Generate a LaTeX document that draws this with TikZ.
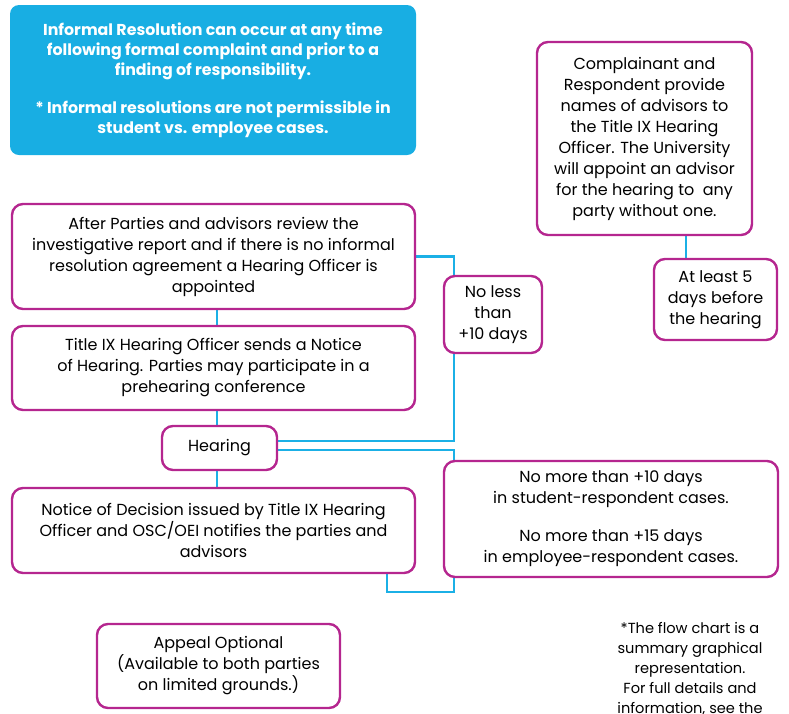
\documentclass[tikz,border=0pt]{standalone}
\usepackage{fontspec}
\setmainfont{Poppins}
\usetikzlibrary{backgrounds}
\definecolor{boxpink}{RGB}{181,38,143}
\definecolor{linkblue}{RGB}{27,176,230}
\definecolor{notefill}{RGB}{24,174,227}
\tikzset{
  stepbox/.style={draw=boxpink, line width=2.4pt, rounded corners=11pt, fill=white,
    align=center, inner sep=0pt, font=\fontsize{16}{21}\selectfont},
  infobox/.style={fill=notefill, rounded corners=9pt, align=center, inner sep=0pt,
    text=white, font=\bfseries\fontsize{15.8}{20}\selectfont},
  link/.style={draw=linkblue, line width=2.6pt},
}
\begin{document}
\begin{tikzpicture} [x=1pt,y=-1pt]
        \useasboundingbox (0,0) rectangle (789,713);
        \clip (0,0) rectangle (789,713);
% informal resolution note
        \node[infobox,minimum width=406pt,minimum height=150pt] (info) at (213,80)
          {Informal Resolution can occur at any time\\following formal complaint and prior to a\\finding of responsibility.\\[18pt]
           * Informal resolutions are not permissible in\\student vs. employee cases.};
% advisors
        \node[stepbox,minimum width=215pt,minimum height=193pt] (advis) at (644.5,138.5)
          {Complainant and\\Respondent provide\\names of advisors to\\the Title IX Hearing\\Officer. The University\\will appoint an advisor\\for the hearing to\ \ any\\party without one.};
        \node[stepbox,minimum width=123pt,minimum height=81pt] (five) at (715.5,299.5)
          {At least 5\\days before\\the hearing};
% main steps
        \node[stepbox,minimum width=403pt,minimum height=105pt] (appoint) at (213.5,256.5)
          {After Parties and advisors review the\\investigative report and if there is no informal\\resolution agreement a Hearing Officer is\\appointed};
        \node[stepbox,minimum width=403pt,minimum height=84pt] (notice) at (213.5,368)
          {Title IX Hearing Officer sends a Notice\\of Hearing. Parties may participate in a\\prehearing conference};
        \node[stepbox,minimum width=115pt,minimum height=44pt] (hear) at (219.5,448) {Hearing};
        \node[stepbox,minimum width=403pt,minimum height=85pt] (decide) at (213.5,530.5)
          {Notice of Decision issued by Title IX Hearing\\Officer and OSC/OEI notifies the parties and\\advisors};
        \node[stepbox,minimum width=243pt,minimum height=84pt] (appeal) at (218.5,666)
          {Appeal Optional\\(Available to both parties\\on limited grounds.)};
% time limits
        \node[stepbox,minimum width=98pt,minimum height=77pt] (noless) at (493,314.5)
          {No less\\than\\+10 days};
        \node[stepbox,minimum width=334pt,minimum height=116pt] (nomore) at (611,519)
          {No more than +10 days\\in student-respondent cases.\\[17pt]
           No more than +15 days\\in employee-respondent cases.};
        \node[align=center,inner sep=0pt,font=\fontsize{14.6}{20}\selectfont,anchor=north] (note) at (690,622)
          {*The flow chart is a\\summary graphical\\representation.\\For full details and\\information, see the};

        \coordinate (spine) at (217,0);
        \coordinate (side) at (686,0);
        \coordinate (bendA) at (454,256.5);
        \coordinate (bendB) at (454,441);
        \coordinate (bendC) at (454,450);
        \coordinate (bendD) at (454,592);
        \coordinate (bendE) at (387,592);
    \begin{pgfonlayer}{background}
        \draw [link] (spine |- appoint.south) -- (spine |- notice.north);
        \draw [link] (spine |- notice.south) -- (spine |- hear.north);
        \draw [link] (spine |- hear.south) -- (spine |- decide.north);
        \draw [link] (side |- advis.south) -- (side |- five.north);
        \draw [link] (appoint.east) -- (bendA) -- (bendB) -- (bendB -| hear.east);
        \draw [link] (bendC -| hear.east) -- (bendC) -- (bendD) -- (bendE) -- (bendE |- decide.south);
    \end{pgfonlayer}
    \end{tikzpicture}
\end{document}
